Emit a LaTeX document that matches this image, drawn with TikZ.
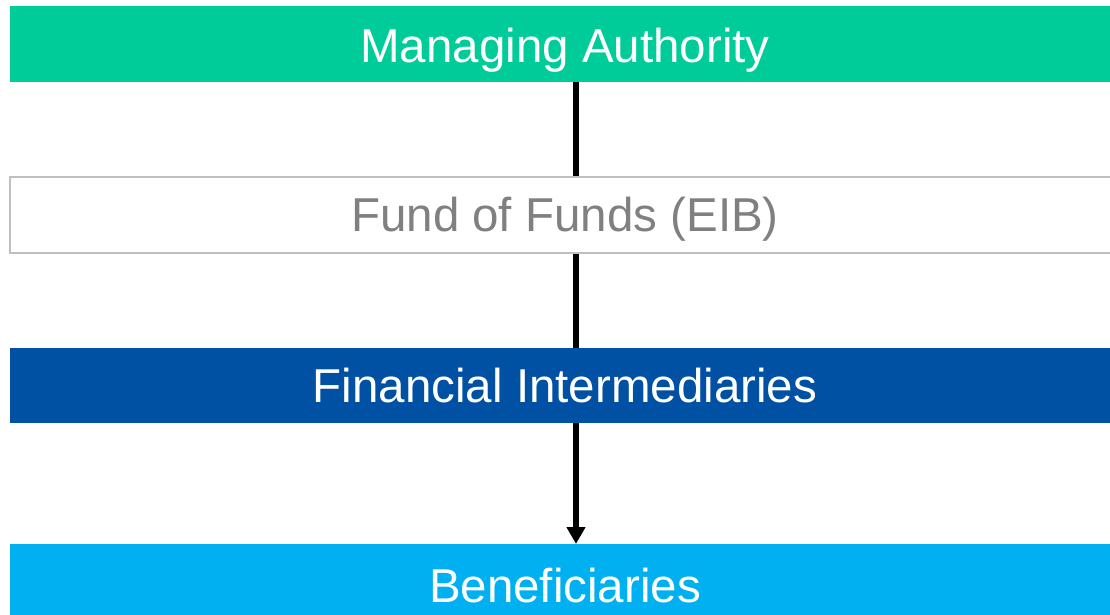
\documentclass[tikz,border=0pt]{standalone}
\usepackage{fontspec}
\setmainfont{Liberation Sans}
\usetikzlibrary{arrows.meta}
\definecolor{magreen}{HTML}{00CC99}
\definecolor{fidark}{HTML}{0050A4}
\definecolor{benblue}{HTML}{00B0F0}
\definecolor{foftext}{HTML}{808080}
\definecolor{fofborder}{HTML}{BFBFBF}
\tikzset{
  band/.style={anchor=north west, minimum width=1110pt, inner sep=0pt, outer sep=0pt,
    font=\fontsize{47.5pt}{56pt}\selectfont, text height=33.6pt, text depth=0pt},
  flow/.style={line width=5.5pt, -{Triangle[width=18pt,length=17pt]}}
}
\begin{document}
\begin{tikzpicture}[x=1pt,y=-1pt]
\useasboundingbox (0,0) rectangle (1110,614);
\node[band, fill=magreen, text=white, minimum height=76pt, text height=37.6pt] (ma) at (10,6) {Managing Authority};
\node[band, fill=benblue, text=white, minimum height=82pt, text height=35.6pt] (ben) at (10,544) {Beneficiaries};
\draw[flow] ([xshift=11pt]ma.south) -- ([xshift=11pt]ben.north);
\node[band, fill=white, draw=fofborder, line width=2pt, text=foftext, minimum height=76pt] (fof) at (10,177) {Fund of Funds (EIB)};
\node[band, fill=fidark, text=white, minimum height=75pt] (fi) at (10,348) {Financial Intermediaries};
\end{tikzpicture}
\end{document}
